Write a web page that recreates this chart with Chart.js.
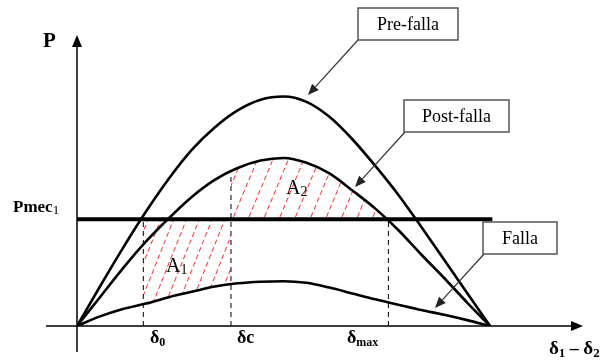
<!DOCTYPE html>
<html>
<head>
<meta charset="utf-8">
<script src="https://cdn.jsdelivr.net/npm/chart.js@4"></script>
<style>
  html, body { margin: 0; padding: 0; background: #fff; }
  #wrap { width: 613px; height: 362px; position: relative; }
</style>
</head>
<body>
<div id="wrap"><canvas id="chart"></canvas></div>
<script>
// rotor angle (deg) and power curves (Pmec = 1)
const delta     = [0, 10, 20, 30, 40, 50, 60, 70, 80, 90, 100, 110, 120, 130, 140, 150, 160, 170, 180];
const preFalla  = [0, 0.37, 0.73, 1.07, 1.38, 1.65, 1.86, 2.02, 2.12, 2.15, 2.10, 1.96, 1.75, 1.50, 1.23, 0.93, 0.62, 0.31, 0];
const postFalla = [0, 0.27, 0.54, 0.79, 1.01, 1.21, 1.37, 1.48, 1.55, 1.575, 1.53, 1.43, 1.27, 1.10, 0.90, 0.67, 0.45, 0.22, 0];
const falla     = [0, 0.09, 0.16, 0.21, 0.27, 0.32, 0.37, 0.40, 0.415, 0.42, 0.405, 0.36, 0.305, 0.25, 0.20, 0.15, 0.105, 0.055, 0];

const pmec = 1;
const pmecSpan = [0, 181];
const angleNames = ["δ0", "δc", "δmax"];
const angleValues = [28.9, 67.1, 135.7];
const postAtDc = 1.42;

function pts(ys) {
    return delta.map(function(d, i) { return {x: d, y: ys[i]}; });
}

function curve(label, ys) {
    return {
        label: label,
        data: pts(ys),
        borderColor: "#000",
        borderWidth: 2.6,
        pointRadius: 0,
        cubicInterpolationMode: "monotone",
        fill: false
    };
}

function vline(d, top) {
    return {
        data: [{x: d, y: 0}, {x: d, y: top}],
        borderColor: "#000",
        borderWidth: 1,
        borderDash: [5, 4],
        pointRadius: 0,
        fill: false
    };
}

// red dashed hatching for the two areas
function hatch(ctx, x0, x1, yRef, yTop, yBot, step, slope) {
    ctx.save();
    ctx.strokeStyle = "rgba(255,0,0,0.85)";
    ctx.lineWidth = 1;
    ctx.setLineDash([5, 3]);
    for (let xs = x0 - 200; xs < x1 + 200; xs += step) {
        ctx.beginPath();
        ctx.moveTo(xs - (yBot - yRef) / slope, yBot);
        ctx.lineTo(xs + (yRef - yTop) / slope, yTop);
        ctx.stroke();
    }
    ctx.restore();
}

const hatchPlugin = {
    id: "hatch",
    beforeDatasetsDraw(chart) {
        const ctx = chart.ctx;
        const x = chart.scales.x, y = chart.scales.y;
        const area = chart.chartArea;
        const postLine = chart.getDatasetMeta(1).dataset;
        const fallaLine = chart.getDatasetMeta(2).dataset;
        postLine.updateControlPoints(area, "x");
        fallaLine.updateControlPoints(area, "x");

        const xa = x.getPixelForValue(angleValues[0]);
        const xc = x.getPixelForValue(angleValues[1]);
        const xm = x.getPixelForValue(angleValues[2]);
        const yp = y.getPixelForValue(pmec);

        // A1: between falla curve and Pmec, from d0 to dc
        ctx.save();
        ctx.beginPath();
        ctx.rect(xa, yp, xc - xa, area.bottom - yp);
        ctx.clip();
        ctx.beginPath();
        fallaLine.path(ctx);
        ctx.lineTo(x.getPixelForValue(180), area.top);
        ctx.lineTo(x.getPixelForValue(0), area.top);
        ctx.closePath();
        ctx.clip();
        hatch(ctx, xa, xc, yp, yp - 5, area.bottom, 12.8, 2.5);
        ctx.restore();

        // A2: between Pmec and post-falla curve, from dc to dmax
        ctx.save();
        ctx.beginPath();
        ctx.rect(xc, area.top, xm - xc, yp - area.top);
        ctx.clip();
        ctx.beginPath();
        postLine.path(ctx);
        ctx.lineTo(x.getPixelForValue(180), area.bottom);
        ctx.lineTo(x.getPixelForValue(0), area.bottom);
        ctx.closePath();
        ctx.clip();
        hatch(ctx, xc, xm, yp, area.top, yp + 5, 15.5, 2.4);
        ctx.restore();
    }
};

function textSub(ctx, x, yb, parts) {
    // parts: [text, font, dy]
    let cx = x;
    parts.forEach(function(p) {
        ctx.font = p[1];
        ctx.fillText(p[0], cx, yb + (p[2] || 0));
        cx += ctx.measureText(p[0]).width;
    });
}

function arrow(ctx, x1, y1, x2, y2) {
    ctx.save();
    ctx.strokeStyle = "#333";
    ctx.fillStyle = "#222";
    ctx.lineWidth = 1.2;
    let a = Math.atan2(y2 - y1, x2 - x1);
    let len = 11, w = 4.5;
    let bx = x2 - len * Math.cos(a), by = y2 - len * Math.sin(a);
    ctx.beginPath();
    ctx.moveTo(x1, y1);
    ctx.lineTo(bx, by);
    ctx.stroke();
    ctx.beginPath();
    ctx.moveTo(x2, y2);
    ctx.lineTo(bx + w * Math.sin(a), by - w * Math.cos(a));
    ctx.lineTo(bx - w * Math.sin(a), by + w * Math.cos(a));
    ctx.closePath();
    ctx.fill();
    ctx.restore();
}

function box(ctx, x, y, w, h, label) {
    ctx.save();
    ctx.fillStyle = "#fff";
    ctx.fillRect(x, y, w, h);
    ctx.strokeStyle = "#555";
    ctx.lineWidth = 1.5;
    ctx.strokeRect(x, y, w, h);
    ctx.fillStyle = "#000";
    ctx.font = "18px 'Liberation Serif'";
    ctx.textAlign = "center";
    ctx.textBaseline = "middle";
    ctx.fillText(label, x + w / 2, y + h / 2 + 1);
    ctx.restore();
}

const decorPlugin = {
    id: "decor",
    afterDraw(chart) {
        const ctx = chart.ctx;
        const x = chart.scales.x, y = chart.scales.y;
        const area = chart.chartArea;
        const x0 = x.getPixelForValue(0), y0 = y.getPixelForValue(0);

        ctx.save();
        ctx.strokeStyle = "#000";
        ctx.fillStyle = "#000";
        ctx.lineWidth = 1.5;
        // axes
        ctx.beginPath();
        ctx.moveTo(46, y0);
        ctx.lineTo(area.right - 10, y0);
        ctx.moveTo(x0, 352);
        ctx.lineTo(x0, area.top + 10);
        ctx.stroke();
        ctx.beginPath();
        ctx.moveTo(area.right, y0);
        ctx.lineTo(area.right - 12, y0 - 5);
        ctx.lineTo(area.right - 12, y0 + 5);
        ctx.closePath();
        ctx.fill();
        ctx.beginPath();
        ctx.moveTo(x0, area.top);
        ctx.lineTo(x0 - 5, area.top + 12);
        ctx.lineTo(x0 + 5, area.top + 12);
        ctx.closePath();
        ctx.fill();

        // axis labels
        ctx.textBaseline = "alphabetic";
        ctx.textAlign = "left";
        const serif = "'Liberation Serif'";
        textSub(ctx, 43, 47, [["P", "bold 21px " + serif]]);
        textSub(ctx, 13, 212, [["Pmec", "bold 17px " + serif], ["1", "13px " + serif, 2]]);
        textSub(ctx, 150, 343, [["δ", "bold 18px " + serif], ["0", "bold 12px " + serif, 3]]);
        textSub(ctx, 237, 343, [["δc", "bold 18px " + serif]]);
        textSub(ctx, 347, 343, [["δ", "bold 18px " + serif], ["max", "bold 12px " + serif, 3]]);
        textSub(ctx, 549, 354, [["δ", "bold 19px " + serif], ["1", "bold 13px " + serif, 3],
            [" – ", "bold 18px " + serif], ["δ", "bold 19px " + serif], ["2", "bold 13px " + serif, 3]]);

        // area labels
        textSub(ctx, 166, 272, [["A", "20px " + serif], ["1", "14px " + serif, 2]]);
        textSub(ctx, 286, 194, [["A", "20px " + serif], ["2", "14px " + serif, 2]]);
        ctx.restore();

        // callouts
        arrow(ctx, 358, 40, 308, 95);
        arrow(ctx, 405, 132, 355, 187);
        arrow(ctx, 484, 254, 435, 308);
        box(ctx, 358, 8, 100, 32, "Pre-falla");
        box(ctx, 404, 100, 105, 32, "Post-falla");
        box(ctx, 483, 222, 74, 32, "Falla");
    }
};

new Chart(document.getElementById("chart"), {
    type: "line",
    data: {
        datasets: [
            curve("Pre-falla", preFalla),
            curve("Post-falla", postFalla),
            curve("Falla", falla),
            {
                label: "Pmec",
                data: pmecSpan.map(function(d) { return {x: d, y: pmec}; }),
                borderColor: "#000",
                borderWidth: 4,
                pointRadius: 0,
                fill: false
            },
            vline(angleValues[0], pmec),
            vline(angleValues[1], postAtDc),
            vline(angleValues[2], pmec)
        ]
    },
    options: {
        responsive: true,
        maintainAspectRatio: false,
        animation: false,
        layout: { padding: { left: 77, right: 30, top: 35, bottom: 36 } },
        scales: {
            x: { type: "linear", min: 0, max: 220.5, display: false },
            y: { type: "linear", min: 0, max: 2.727, display: false }
        },
        plugins: {
            legend: { display: false },
            tooltip: { enabled: false }
        }
    },
    plugins: [hatchPlugin, decorPlugin]
});
</script>
</body>
</html>
